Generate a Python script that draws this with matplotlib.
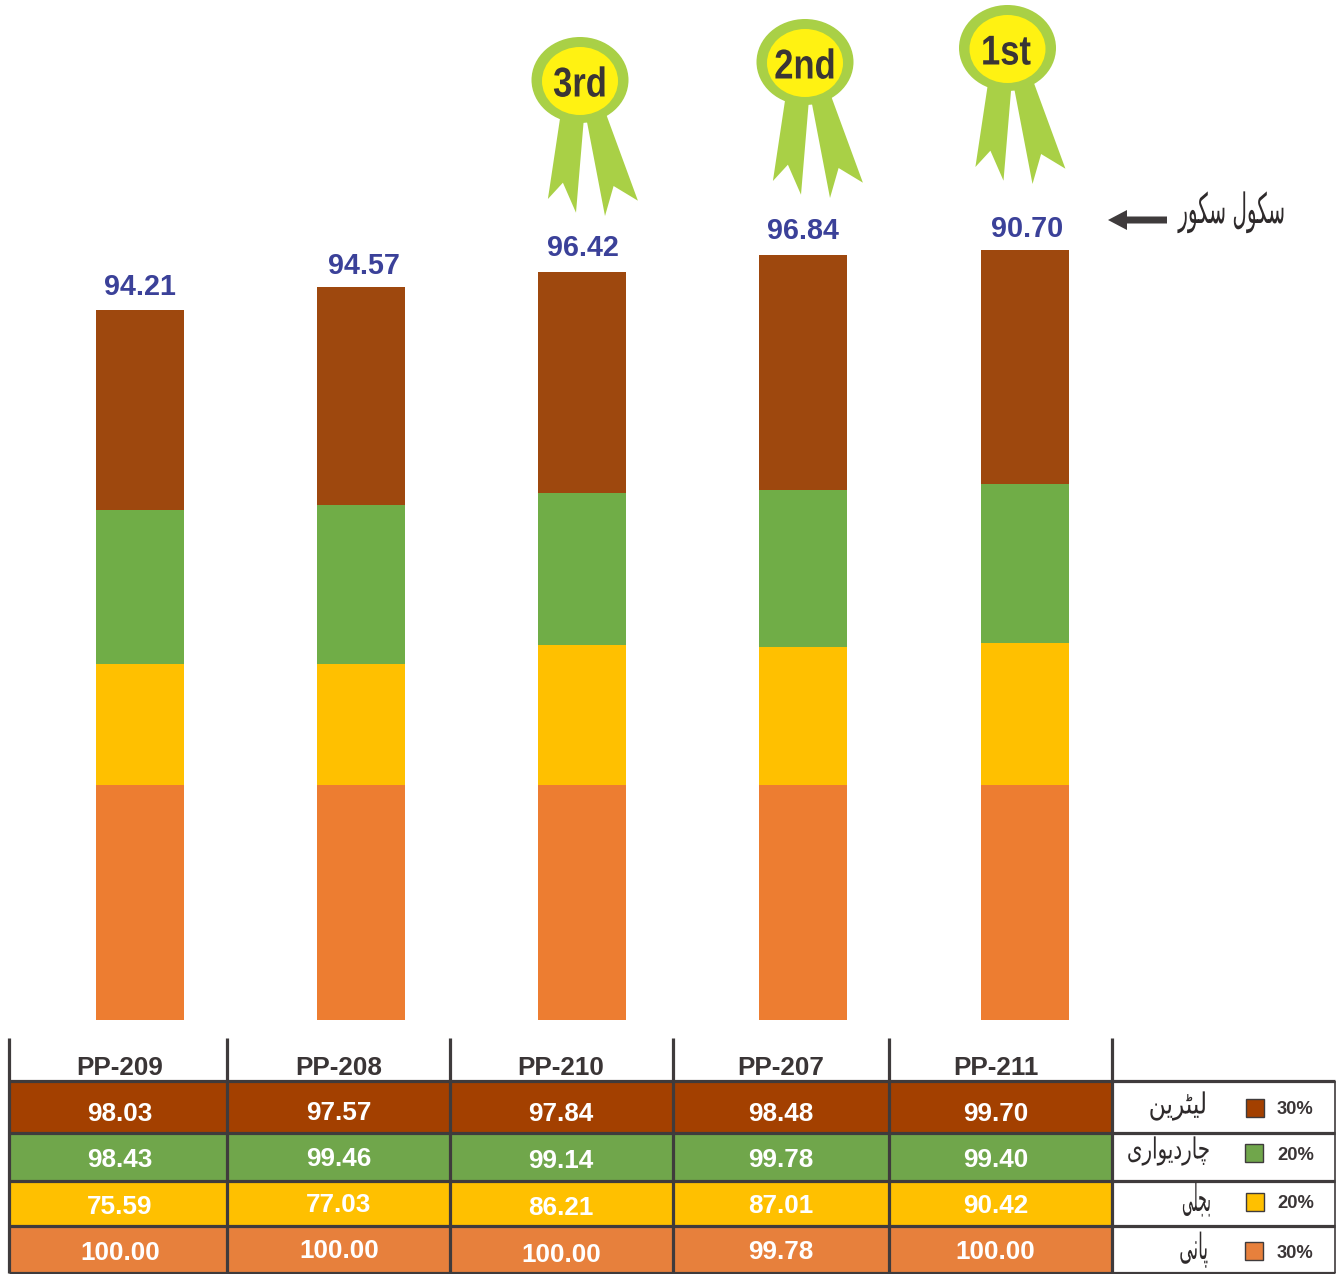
import matplotlib
matplotlib.use("Agg")
import matplotlib.pyplot as plt
from matplotlib.patches import Ellipse, Polygon, Rectangle
from matplotlib.patheffects import AbstractPathEffect
from matplotlib.transforms import Affine2D

# ---- data ----
categories = ["PP-209", "PP-208", "PP-210", "PP-207", "PP-211"]
scores = ["94.21", "94.57", "96.42", "96.84", "90.70"]
# stacked segment heights as drawn in the picture
seg_water = [30.0, 30.0, 30.0, 30.0, 30.0]
seg_elec = [15.45, 15.45, 17.88, 17.62, 18.14]
seg_wall = [19.67, 20.30, 19.41, 20.05, 20.30]
seg_toilet = [25.54, 27.84, 28.22, 30.01, 29.89]
# table values
tbl_toilet = ["98.03", "97.57", "97.84", "98.48", "99.70"]
tbl_wall = ["98.43", "99.46", "99.14", "99.78", "99.40"]
tbl_elec = ["75.59", "77.03", "86.21", "87.01", "90.42"]
tbl_water = ["100.00", "100.00", "100.00", "99.78", "100.00"]
weights = ["30%", "20%", "20%", "30%"]
urdu_rows = ["لیٹرین", "چاردیواری", "بجلی", "پانی"]
urdu_score = "سکول سکور"
medals = ["3rd", "2nd", "1st"]

# ---- simple Urdu shaping into presentation forms (visual order) ----
FORMS = {
    "س": (0xFEB1, 0xFEB2, 0xFEB3, 0xFEB4), "ک": (0xFB8E, 0xFB8F, 0xFB90, 0xFB91),
    "ل": (0xFEDD, 0xFEDE, 0xFEDF, 0xFEE0), "ی": (0xFBFC, 0xFBFD, 0xFBFE, 0xFBFF),
    "ٹ": (0xFB66, 0xFB67, 0xFB68, 0xFB69), "ن": (0xFEE5, 0xFEE6, 0xFEE7, 0xFEE8),
    "چ": (0xFB7A, 0xFB7B, 0xFB7C, 0xFB7D), "ب": (0xFE8F, 0xFE90, 0xFE91, 0xFE92),
    "ج": (0xFE9D, 0xFE9E, 0xFE9F, 0xFEA0), "پ": (0xFB56, 0xFB57, 0xFB58, 0xFB59),
    "و": (0xFEED, 0xFEEE, None, None), "ر": (0xFEAD, 0xFEAE, None, None),
    "ا": (0xFE8D, 0xFE8E, None, None), "د": (0xFEA9, 0xFEAA, None, None),
}


def shape(word):
    out = []
    for i, ch in enumerate(word):
        if ch not in FORMS:
            out.append(ch)
            continue
        prev = word[i - 1] if i else ""
        nxt = word[i + 1] if i + 1 < len(word) else ""
        joins_prev = prev in FORMS and FORMS[prev][2] is not None
        joins_next = nxt in FORMS and FORMS[ch][2] is not None
        idx = 3 if joins_prev and joins_next else 1 if joins_prev else 2 if joins_next else 0
        out.append(chr(FORMS[ch][idx]))
    return "".join(reversed(out))


class Squeeze(AbstractPathEffect):
    """Narrow real text horizontally about a fixed x (pixels)."""

    def __init__(self, sx, about):
        super().__init__()
        self.sx, self.about = sx, about

    def draw_path(self, renderer, gc, tpath, affine, rgbFace=None):
        t = affine + Affine2D().translate(-self.about, 0).scale(self.sx, 1).translate(self.about, 0)
        renderer.draw_path(gc, tpath, t, rgbFace)


# ---- styles ----
W, H = 1341, 1274
BAR_COLS = ["#ED7D31", "#FFC000", "#70AD47", "#9E480E"]
CELL_COLS = ["#A34000", "#70A64B", "#FFC000", "#E7803C"]
LINE = "#3F3B3C"
BOLD = dict(family="Liberation Sans", fontweight="bold")

fig = plt.figure(figsize=(W / 100, H / 100), dpi=100, facecolor="white")

# ---- bars: one data unit = 7.83 px ----
baseline_px, unit_px, first_px, step_px = 1020, 7.83, 140, 221.15
ax = fig.add_axes([0, (H - baseline_px) / H, 1, baseline_px / H])
ax.set_xlim(-first_px / step_px, (W - first_px) / step_px)
ax.set_ylim(0, baseline_px / unit_px)
ax.axis("off")
x = list(range(len(categories)))
bottom = [0.0] * len(x)
for vals, col in zip([seg_water, seg_elec, seg_wall, seg_toilet], BAR_COLS):
    ax.bar(x, vals, bottom=bottom, width=88 / step_px, color=col, linewidth=0)
    bottom = [b + v for b, v in zip(bottom, vals)]
label_dx = [0, 3, 1, -1, 2]
label_dy = [26, 24, 27, 27, 24]
for i, (b, s) in enumerate(zip(bottom, scores)):
    ax.annotate(s, (i, b), xytext=(label_dx[i] * 0.72, label_dy[i] * 0.72),
                textcoords="offset points", ha="center", va="center_baseline",
                fontsize=20.7, color="#3B4199", **BOLD)

# ---- pixel overlay for table, medals and notes ----
ov = fig.add_axes([0, 0, 1, 1], facecolor="none")
ov.set_xlim(0, W)
ov.set_ylim(H, 0)
ov.axis("off")

col_edges = [9, 227, 450, 673, 889, 1112]
row_edges = [1081, 1133, 1181, 1226, 1273]
col_centres = [120, 339, 561, 781, 995.5]
row_text_y = [[1111.6, 1110.6, 1111.6, 1111.6, 1111.6], [1157.6, 1156.6, 1158.6, 1157.6, 1157.6],
              [1204.6, 1202.6, 1205.6, 1203.6, 1203.6], [1250.6, 1248.6, 1252.6, 1249.6, 1249.6]]
rows = [tbl_toilet, tbl_wall, tbl_elec, tbl_water]
for r, col in enumerate(CELL_COLS):
    ov.add_patch(Rectangle((col_edges[0], row_edges[r]), col_edges[-1] - col_edges[0],
                           row_edges[r + 1] - row_edges[r], fc=col, ec="none"))
    for c, txt in enumerate(rows[r]):
        ov.text(col_centres[c], row_text_y[r][c], txt, ha="center", va="center_baseline",
                fontsize=18.8, color="white", **BOLD)
for c, name in enumerate(categories):
    ov.text(col_centres[c], 1065.5, name, ha="center", va="center_baseline",
            fontsize=18.8, color="#3A3536", **BOLD)
lw3 = 2.3
ov.vlines(col_edges, 1038, 1273, color=LINE, lw=lw3, zorder=3)
ov.hlines(row_edges, col_edges[0], 1335, color=LINE, lw=lw3, zorder=3)
ov.vlines([1335], row_edges[0], row_edges[-1], color=LINE, lw=1.2, zorder=3)

# legend cells
sw_x = [1246, 1245, 1246, 1245]
sw_y = [1099, 1144, 1193, 1242]
pct_y = [1108, 1154, 1202, 1251]
urdu_x = [1207, 1210, 1211, 1208]
urdu_y = [1106, 1151, 1201, 1250]
urdu_fs = [21, 21, 27, 26]
urdu_sx = [0.80, 0.68, 0.37, 0.47]
for i in range(4):
    ov.add_patch(Rectangle((sw_x[i], sw_y[i]), 18, 18, fc=CELL_COLS[i], ec=LINE, lw=1.0, zorder=4))
    ov.text(1295.5, pct_y[i], weights[i], ha="center", va="center_baseline",
            fontsize=13.2, color="#3A3536", **BOLD)
    ov.text(urdu_x[i], urdu_y[i], shape(urdu_rows[i]), ha="right", va="center",
            fontsize=urdu_fs[i], color="#2E2A2B", family="DejaVu Sans",
            path_effects=[Squeeze(urdu_sx[i], urdu_x[i])])

# medals
GREEN, YEL = "#A9D046", "#FFF212"
left_r = [(-19.6, 36), (3.6, 42), (-4, 132.7), (-17.1, 102.7), (-32.1, 119)]
right_r = [(7, 42), (25.7, 33), (57.9, 120.7), (33.6, 106), (25, 136)]
centres = [(580, 80), (805, 62), (1007.5, 48)]
text_x = [580, 805, 1006]
for (cx, cy), name, tx in zip(centres, medals, text_x):
    for pts in (left_r, right_r):
        ov.add_patch(Polygon([(cx + a, cy + b) for a, b in pts], fc=GREEN, ec="none", zorder=5))
    ov.add_patch(Ellipse((cx, cy), 97, 86, fc=GREEN, ec="none", zorder=6))
    ov.add_patch(Ellipse((cx, cy + 1), 76, 68, fc=YEL, ec="none", zorder=7))
    ov.text(tx, cy + 1, name, ha="center", va="center_baseline", fontsize=30,
            color="#3A3536", zorder=8, path_effects=[Squeeze(0.83, tx)], **BOLD)

# score note with arrow
ov.add_patch(Polygon([(1108, 220), (1127, 210), (1127, 216.5), (1167, 216.5),
                      (1167, 223.5), (1127, 223.5), (1127, 230)], fc="#3F3B3C", ec="none"))
ov.text(1285, 212, " ".join(shape(w) for w in reversed(urdu_score.split())), ha="right", va="center",
        fontsize=30, color="#2E2A2B", family="DejaVu Sans", path_effects=[Squeeze(0.48, 1285)])

fig.savefig("out.png", dpi=100)
